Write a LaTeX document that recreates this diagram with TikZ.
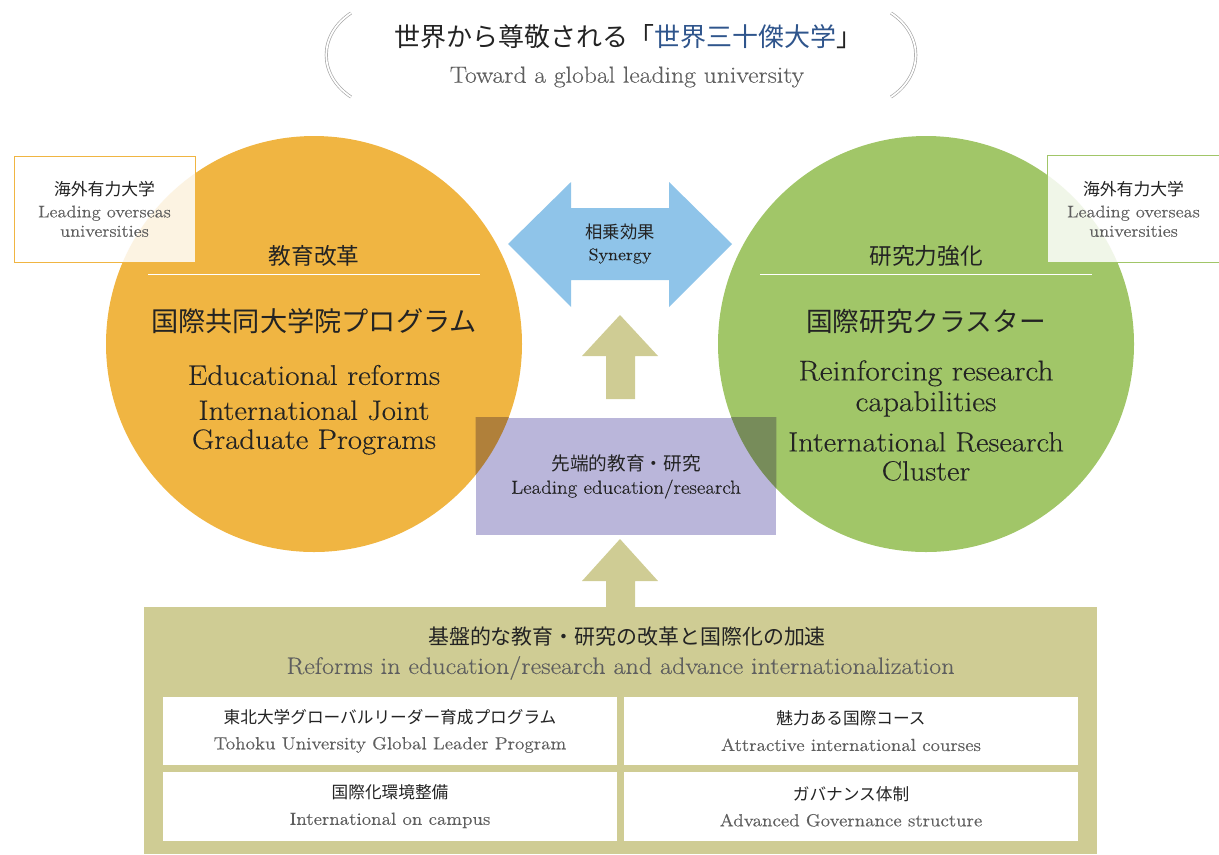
\documentclass[tikz,border=0pt]{standalone}
\usepackage{fontspec}
\setmainfont{Latin Modern Roman}[FakeStretch=1.1, FakeBold=0.3]
\newfontfamily\jpfont{Noto Sans CJK JP}
\usetikzlibrary{positioning}

\definecolor{eduorange}{RGB}{240,181,66}
\definecolor{resgreen}{RGB}{161,198,104}
\definecolor{synblue}{RGB}{143,196,233}
\definecolor{baseolive}{RGB}{207,204,148}
\definecolor{leadpurple}{RGB}{186,182,218}
\definecolor{eduover}{RGB}{176,128,58}
\definecolor{resover}{RGB}{119,140,90}
\definecolor{titleblue}{RGB}{47,85,140}
\definecolor{darktext}{RGB}{35,35,35}
\definecolor{greytext}{RGB}{95,95,95}
\definecolor{parengrey}{RGB}{165,165,165}

\newcommand\fsz[2]{\fontsize{#1}{#2}\selectfont}

\tikzset{
		circ/.style={circle, inner sep=0pt, minimum size=312pt},
		overseas/.style={fill=white, fill opacity=0.85, text opacity=1, minimum width=135.75pt, minimum height=79.5pt, align=center, inner sep=0pt, font=\fsz{12.6}{14.5}},
		subbox/.style={fill=white, minimum width=340.5pt, minimum height=51.5pt, align=center, inner sep=0pt, font=\fsz{13.1}{19.5}},
		blockarrow/.style={fill=baseolive},
		paren/.style={draw=parengrey, line width=0.5pt, double=white, double distance=1.3pt},
		divider/.style={white, line width=0.6pt}
	}

\begin{document}
\begin{tikzpicture}[x=0.75pt, y=-0.75pt, every node/.append style={text=darktext}]
\useasboundingbox (0,0) rectangle (1219,854);

\draw[paren] (351,13) .. controls (318,35) and (318,75) .. (351,97);
\draw[paren] (891,13) .. controls (924,35) and (924,75) .. (891,97);
\node (goal) at (628,37) [font=\jpfont\fsz{19.5}{22}] {世界から尊敬される「\textcolor{titleblue}{世界三十傑大学}」};
\node (goalEn) at (627,77) [font=\fsz{17.5}{20}, text=greytext] {Toward a global leading university};


\node (edu) at (314,344) [circ, fill=eduorange] {};
\node (res) at (926,344) [circ, fill=resgreen] {};


\node (ovL) at (104.5,209) [overseas, draw=eduorange, line width=0.6pt] {{\jpfont 海外有力大学}\\[2pt]\textcolor{greytext}{Leading overseas}\\\textcolor{greytext}{universities}};
\node (ovR) at (1133.5,209) [overseas, minimum width=128.25pt] {{\jpfont 海外有力大学}\\[2pt]\textcolor{greytext}{Leading overseas}\\\textcolor{greytext}{universities}};
\draw[resgreen, line width=0.6pt] (ovR.north east) -- (ovR.north west) -- (ovR.south west) -- (ovR.south east);


\node (eduHead) at (314,256) [font=\jpfont\fsz{17}{20}] {教育改革};
\draw[divider] (148,274) -- (480,274);
\node (eduJp) at (314,321) [font=\jpfont\fsz{20.4}{24}] {国際共同大学院プログラム};
\node (eduEn) at (314,375) [font=\fsz{21.3}{22}] {Educational reforms};
\node (eduProg) at (314,427.5) [align=center, font=\fsz{21}{21.75}] {International Joint\\Graduate Programs};

\node (resHead) at (926,256) [font=\jpfont\fsz{17}{20}] {研究力強化};
\draw[divider] (760,274) -- (1092,274);
\node (resJp) at (926,321) [font=\jpfont\fsz{20}{24}] {国際研究クラスター};
\node (resEn) at (926,388.5) [align=center, font=\fsz{21.5}{23}] {Reinforcing research\\capabilities};
\node (resClu) at (926,456.5) [align=center, font=\fsz{20.8}{21.75}] {International Research\\Cluster};


\fill[synblue] (508,244) -- (571,182) -- (571,208) -- (669,208) -- (669,182) -- (732,244) -- (669,307) -- (669,280) -- (571,280) -- (571,307) -- cycle;
\node (synJp) at (620,232) [font=\jpfont\fsz{13}{15}] {相乗効果};
\node (synEn) at (620,256) [font=\fsz{12.5}{15}] {Synergy};

\fill[blockarrow] (620,315) -- (658,356) -- (635,356) -- (635,399) -- (606,399) -- (606,356) -- (582,356) -- cycle;


\node (lead) at (626,476.5) [fill=leadpurple, minimum width=225pt, minimum height=87.75pt, inner sep=0pt] {};
\begin{scope}
\clip (lead.south west) rectangle (lead.north east);
\fill[eduover] (edu.center) circle[radius=156pt];
\fill[resover] (res.center) circle[radius=156pt];
\end{scope}
\node (leadJp) at (626,463) [font=\jpfont\fsz{14}{16}] {先端的教育・研究};
\node (leadEn) at (626,489) [font=\fsz{14.2}{16}] {Leading education/research};

\fill[blockarrow] (620,539) -- (658,581) -- (635,581) -- (635,608) -- (606,608) -- (606,581) -- (582,581) -- cycle;


\node (base) at (620.5,730.5) [fill=baseolive, minimum width=714.75pt, minimum height=185.25pt, inner sep=0pt] {};
\node (baseJp) at (627,637) [font=\jpfont\fsz{15.7}{18}] {基盤的な教育・研究の改革と国際化の加速};
\node (baseEn) at (620.5,668) [font=\fsz{17.8}{18}, text=greytext] {Reforms in education/research and advance internationalization};

\node (tglp) at (390,731) [subbox] {{\jpfont\fsz{12.5}{19.5}東北大学グローバルリーダー育成プログラム}\\\textcolor{greytext}{Tohoku University Global Leader Program}};
\node (course) at (851,731) [subbox] {{\jpfont\fsz{12.5}{19.5}魅力ある国際コース}\\\textcolor{greytext}{Attractive international courses}};
\node (campus) at (390,806.5) [subbox] {{\jpfont\fsz{12.5}{19.5}国際化環境整備}\\\textcolor{greytext}{International on campus}};
\node (govern) at (851,806.5) [subbox] {{\jpfont\fsz{12.5}{19.5}ガバナンス体制}\\\textcolor{greytext}{Advanced Governance structure}};

\end{tikzpicture}
\end{document}
